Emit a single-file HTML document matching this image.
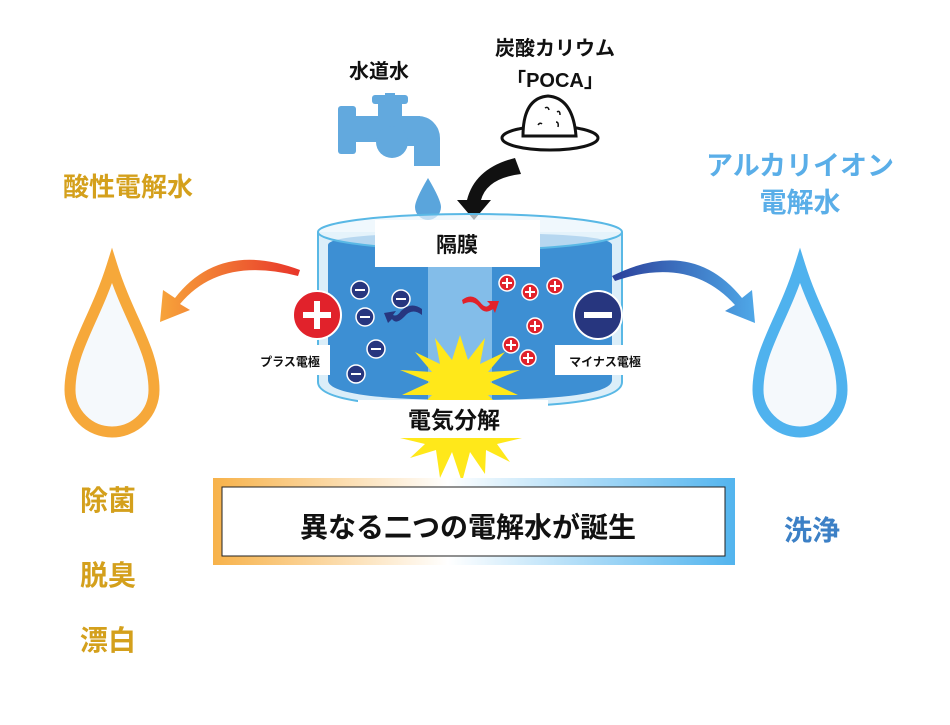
<!DOCTYPE html>
<html><head><meta charset="utf-8"><style>
body{margin:0;width:950px;height:720px;background:#fff;overflow:hidden;font-family:"Liberation Sans","Noto Sans CJK JP",sans-serif}
svg text{font-family:"Liberation Sans","Noto Sans CJK JP",sans-serif;font-weight:bold}
</style></head><body>
<svg width="950" height="720" viewBox="0 0 950 720" xmlns="http://www.w3.org/2000/svg">
<defs>
<linearGradient id="bx" x1="0" x2="1" y1="0" y2="0">
<stop offset="0" stop-color="#f7b24a"/><stop offset="0.45" stop-color="#fff"/><stop offset="1" stop-color="#52b4ee"/></linearGradient>
<linearGradient id="oa" x1="1" x2="0"><stop offset="0" stop-color="#e8352a"/><stop offset="1" stop-color="#f7a43a"/></linearGradient>
<linearGradient id="ba" x1="0" x2="1"><stop offset="0" stop-color="#2b3f9a"/><stop offset="1" stop-color="#4fa8e8"/></linearGradient>
</defs>
<text x="379" y="78" font-size="20" text-anchor="middle" fill="#111">水道水</text>
<text x="555" y="55" font-size="20" text-anchor="middle" fill="#111">炭酸カリウム</text>
<text x="555" y="87" font-size="20" text-anchor="middle" fill="#111">「POCA」</text>
<g fill="#62a9de">
<rect x="338" y="106" width="18" height="48" rx="3"/>
<rect x="350" y="116" width="70" height="26"/>
<rect x="385" y="93" width="10" height="12"/><rect x="372" y="95" width="36" height="9" rx="3"/>
<rect x="378" y="102" width="24" height="20"/>
<path d="M395 116 h23 a22 22 0 0 1 22 22 v28 h-26 v-20 h-19z"/>
<circle cx="392" cy="142" r="16"/>
</g>
<path d="M428 178 q-13 22 -13 29 a13 13 0 0 0 26 0 q0-7 -13-29z" fill="#5aa5dc"/>
<ellipse cx="550" cy="138" rx="48" ry="12" fill="#fff" stroke="#111" stroke-width="3"/>
<path d="M523 136 q0-38 25-40 q25 2 28 40 z" fill="#fff" stroke="#111" stroke-width="3"/>
<path d="M545 108 q3-2 4 2 M557 112 q3-2 3 3 M538 125 q2-3 4-1 M556 122 q3 0 2 5" stroke="#111" stroke-width="1.5" fill="none"/>
<path d="M515 158 q-40 10 -48 42 l-10 0 l17 20 l17-20 l-10 0 q6-22 40-26z" fill="#111"/>
<path d="M318 232 v150 q0 25 152 25 q152 0 152-25 v-150" fill="#dbeef9" stroke="#59b8e5" stroke-width="2"/>
<path d="M328 245 v135 q0 20 142 20 q142 0 142-20 v-135 q0-12 -142-12 q-142 0 -142 12z" fill="#3d8fd3"/>
<ellipse cx="470" cy="232" rx="152" ry="18" fill="#e9f5fc" fill-opacity="0.7" stroke="#59b8e5" stroke-width="2"/>
<rect x="428" y="262" width="64" height="138" fill="#83bde9"/>
<polygon fill="#ffe81a" points="460,335 468,360 485,338 480,364 505,352 488,372 520,370 490,382 518,395 488,395 505,412 460,400 415,412 432,395 402,395 430,382 400,370 432,372 415,352 440,364 435,338 452,360"/>
<polygon fill="#ffe81a" points="400,438 425,444 410,458 436,450 440,478 452,452 462,482 470,452 485,474 486,450 510,462 497,444 522,438"/>
<rect x="375" y="220" width="165" height="47" fill="#fff"/>
<text x="457" y="252" font-size="21" text-anchor="middle" fill="#111">隔膜</text>
<rect x="358" y="400" width="190" height="38" fill="#fff"/>
<text x="454" y="428" font-size="23" text-anchor="middle" fill="#111">電気分解</text>
<rect x="250" y="345" width="80" height="30" fill="#fff"/>
<text x="290" y="366" font-size="12" text-anchor="middle" fill="#111">プラス電極</text>
<rect x="555" y="345" width="95" height="30" fill="#fff"/>
<text x="605" y="366" font-size="12" text-anchor="middle" fill="#111">マイナス電極</text>
<circle cx="317" cy="315" r="24" fill="#e1222b" stroke="#fff" stroke-width="2"/>
<rect x="303" y="312" width="28" height="6" fill="#fff"/><rect x="314" y="301" width="6" height="28" fill="#fff"/>
<circle cx="598" cy="315" r="24" fill="#27367f" stroke="#fff" stroke-width="2"/>
<rect x="584" y="312" width="28" height="6" fill="#fff"/>
<g fill="#27367f" stroke="#fff" stroke-width="1.5">
<circle cx="360" cy="290" r="9"/><circle cx="401" cy="299" r="9"/><circle cx="365" cy="317" r="9"/><circle cx="376" cy="349" r="9"/><circle cx="356" cy="374" r="9"/>
</g>
<g stroke="#fff" stroke-width="2"><path d="M355 290h10M396 299h10M360 317h10M371 349h10M351 374h10"/></g>
<g fill="#e1222b" stroke="#fff" stroke-width="1.5">
<circle cx="507" cy="283" r="8"/><circle cx="530" cy="292" r="8"/><circle cx="555" cy="286" r="8"/><circle cx="535" cy="326" r="8"/><circle cx="511" cy="345" r="8"/><circle cx="528" cy="358" r="8"/>
</g>
<g stroke="#fff" stroke-width="2"><path d="M502 283h10M507 278v10M525 292h10M530 287v10M550 286h10M555 281v10M530 326h10M535 321v10M506 345h10M511 340v10M523 358h10M528 353v10"/></g>
<path d="M422 315 q-10-8 -18 2 q-8 8 -12 2 l-4 4 l-4-10 l12-2 l-3 4 q4 2 8-4 q10-10 21-2z" fill="#27367f"/>
<path d="M462 300 q10-8 18 2 q6 8 10 2 l-3-3 l12 0 l-4 12 l-2-4 q-8 6 -14-2 q-6-8 -16-3z" fill="#e1222b"/>
<path d="M300 270 q-80-30 -125 28 l-12-8 l-3 32 l30-12 l-10-6 q40-48 118-28z" fill="url(#oa)"/>
<path d="M612 276 q80-40 130 22 l10-8 l3 33 l-30-12 l10-6 q-45-50 -120-24z" fill="url(#ba)"/>
<text x="128" y="196" font-size="26" text-anchor="middle" fill="#d4a01c">酸性電解水</text>
<text x="800" y="175" font-size="27" text-anchor="middle" fill="#5aaee8">アルカリイオン</text>
<text x="800" y="212" font-size="27" text-anchor="middle" fill="#5aaee8">電解水</text>
<path d="M112 266 C95 320 70 350 70 390 a42 42 0 0 0 84 0 C154 350 129 320 112 266z" fill="#f5f9fc" stroke="#f6a83a" stroke-width="11"/>
<path d="M800 266 C783 320 758 350 758 390 a42 42 0 0 0 84 0 C842 350 817 320 800 266z" fill="#f5f9fc" stroke="#4fb2ee" stroke-width="11"/>
<rect x="213" y="478" width="522" height="87" fill="url(#bx)"/>
<rect x="222" y="487" width="503" height="69" fill="#fff" stroke="#222" stroke-width="1"/>
<text x="468" y="537" font-size="28" text-anchor="middle" fill="#111">異なる二つの電解水が誕生</text>
<text x="108" y="510" font-size="28" text-anchor="middle" fill="#d4a01c">除菌</text>
<text x="108" y="585" font-size="28" text-anchor="middle" fill="#d4a01c">脱臭</text>
<text x="108" y="650" font-size="28" text-anchor="middle" fill="#d4a01c">漂白</text>
<text x="812" y="540" font-size="28" text-anchor="middle" fill="#3c80c6">洗浄</text>
</svg>
</body></html>
